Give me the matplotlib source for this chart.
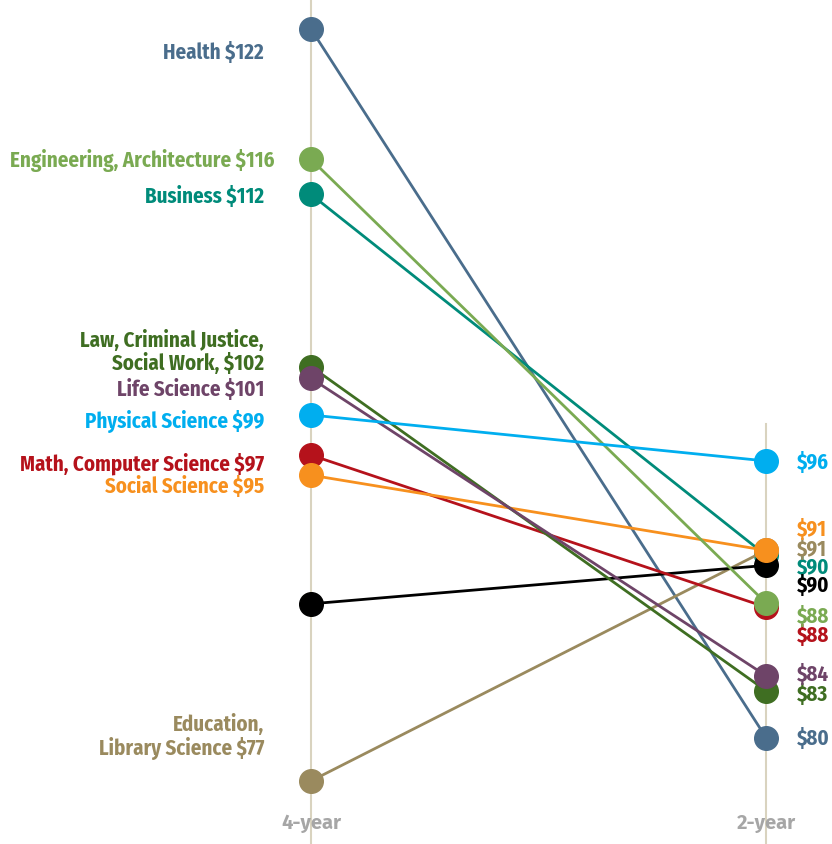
import matplotlib.pyplot as plt

# values (dot positions), labels as printed
majors = ["Health", "Business", "Education", "All", "Math", "Social",
          "Engineering", "Law", "Life", "Physical"]
four_year = [122, 112.1, 77, 87.6, 96.5, 95.3, 114.2, 101.8, 101.1, 98.9]
two_year = [79.6, 90.5, 90.8, 89.9, 87.4, 90.8, 87.65, 82.4, 83.3, 96.15]
left_labels = ["Health $122", "Business $112", "Education,\nLibrary Science $77", "",
               "Math, Computer Science $97", "Social Science $95",
               "Engineering, Architecture $116",
               "Law, Criminal Justice,\nSocial Work, $102", "Life Science $101",
               "Physical Science $99"]
right_labels = ["$80", "$90", "$91", "$90", "$88", "$91", "$88", "$83", "$84", "$96"]
colors = ["#4a6d8c", "#008b7a", "#9a8a5e", "#000000", "#b5121b", "#f7901e",
          "#7aaa52", "#3f6e22", "#6e4468", "#00aeef"]

# label placement (layout only)
left_label_y = [120.62, 112.0, 79.63, None, 96.0, 94.6, 114.15, 102.67, 100.4, 98.5]
left_label_dx = [-47, -47, -47, -47, -47, -47, -36, -47, -47, -47]
right_label_y = [79.57, 89.8, 90.88, 88.67, 85.73, 92.05, 86.87, 82.2, 83.4, 96.03]

PX = 16.71  # pixels per dollar
fig = plt.figure(figsize=(8.32, 8.44), dpi=100)
ax = fig.add_axes([0, 0, 1, 1])
ax.set_xlim(-311 / 455, (832 - 311) / 455)
ax.set_ylim(122 - 815 / PX, 122 + 29 / PX)
ax.axis("off")

axis_color = "#d9d3bf"
ax.plot([0, 0], [ax.get_ylim()[0], ax.get_ylim()[1]], color=axis_color, lw=1.5, zorder=0)
ax.plot([1, 1], [ax.get_ylim()[0], 122 - (424 - 29) / PX], color=axis_color, lw=1.5, zorder=0)

font = dict(family=["Fira Sans Condensed", "DejaVu Sans"], fontweight="bold", fontsize=15)

for i, name in enumerate(majors):
    ax.plot([0, 1], [four_year[i], two_year[i]], color=colors[i], lw=2,
            marker="o", ms=17, zorder=2 + i)
    if left_labels[i]:
        ax.text(left_label_dx[i] / 455, left_label_y[i], left_labels[i], color=colors[i],
                ha="right", va="center", linespacing=1.1, **font)
    ax.text(1 + 31 / 455, right_label_y[i], right_labels[i], color=colors[i],
            ha="left", va="center", **font)

axfont = dict(family=["Fira Sans", "DejaVu Sans"], fontweight="bold", fontsize=14.5)
ax.text(0, 122 - (823 - 29) / PX, "4-year", color="#a6a6a6", ha="center", va="center", **axfont)
ax.text(1, 122 - (823 - 29) / PX, "2-year", color="#a6a6a6", ha="center", va="center", **axfont)

fig.savefig("out.png", dpi=100)
